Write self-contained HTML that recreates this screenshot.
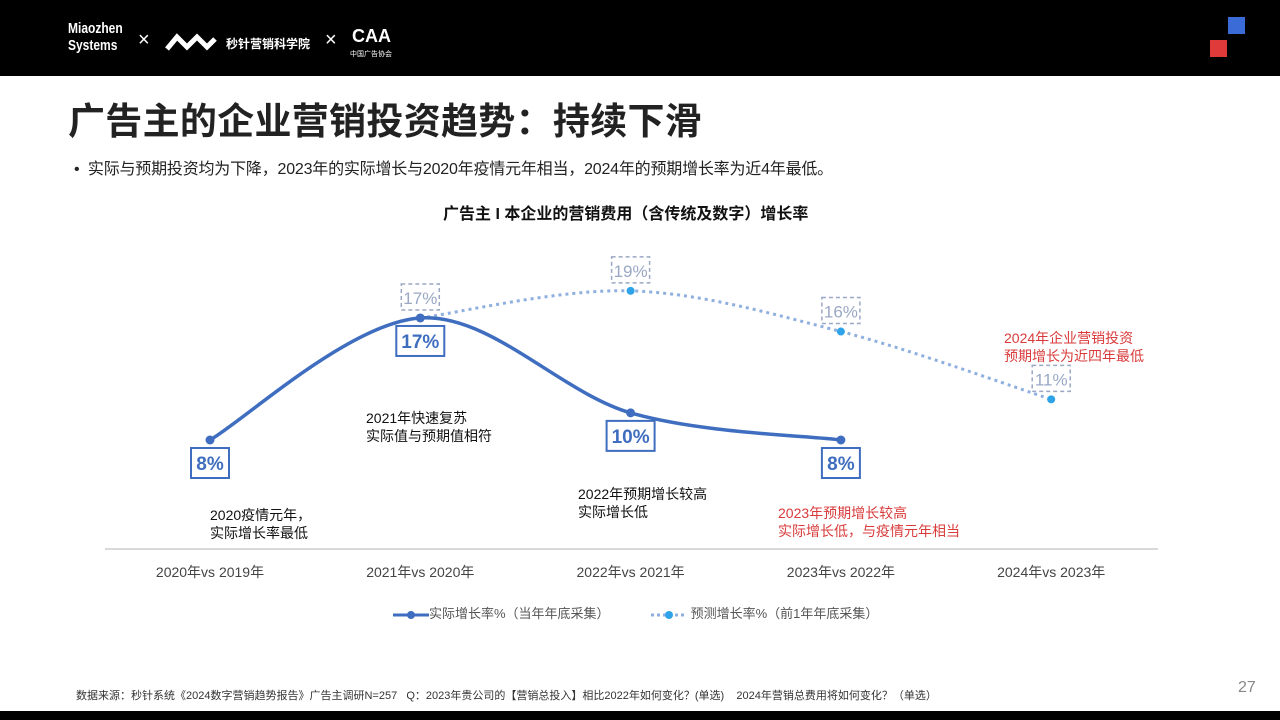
<!DOCTYPE html>
<html><head><meta charset="utf-8">
<style>
body{margin:0;width:1280px;height:720px;position:relative;background:#fff;overflow:hidden;font-family:"Liberation Sans","Noto Sans CJK SC",sans-serif;}
.abs{position:absolute;white-space:nowrap;}
</style></head><body>
<div class="abs" style="left:0;top:0;width:1280px;height:76px;background:#000;"></div>
<div class="abs" style="left:68px;top:20px;color:#fff;font-size:15px;line-height:17px;font-weight:bold;font-family:'Liberation Sans Narrow','Liberation Sans',sans-serif;transform:scaleX(.8);transform-origin:left;">Miaozhen<br>Systems</div>
<div class="abs" style="left:138px;top:30px;color:#fff;font-size:20px;line-height:20px;">×</div>
<svg class="abs" style="left:165px;top:31px" width="52" height="22"><path d="M2 18 L12 6 L22 16 L32 6 L42 16 L50 8" stroke="#fff" stroke-width="5" fill="none"/></svg>
<div class="abs" style="left:226px;top:35px;color:#fff;font-size:12px;font-weight:bold;">秒针营销科学院</div>
<div class="abs" style="left:325px;top:30px;color:#fff;font-size:20px;line-height:20px;">×</div>
<div class="abs" style="left:352px;top:26px;color:#fff;font-size:18px;font-weight:bold;line-height:20px;">CAA</div>
<div class="abs" style="left:350px;top:49px;color:#fff;font-size:7px;">中国广告协会</div>
<div class="abs" style="left:1228px;top:17px;width:17px;height:17px;background:#3a6bd6;"></div>
<div class="abs" style="left:1210px;top:40px;width:17px;height:17px;background:#e03a3a;"></div>
<div class="abs" style="left:68px;top:91px;font-size:37px;letter-spacing:0.3px;font-weight:bold;color:#222;">广告主的企业营销投资趋势：持续下滑</div>
<div class="abs" style="left:74px;top:155px;font-size:16px;color:#222;letter-spacing:-0.2px;">•&nbsp;&nbsp;实际与预期投资均为下降，2023年的实际增长与2020年疫情元年相当，2024年的预期增长率为近4年最低。</div>
<div class="abs" style="left:443px;top:200px;font-size:16px;font-weight:bold;color:#111;">广告主 I 本企业的营销费用（含传统及数字）增长率</div>
<svg class="abs" id="chart" style="left:0;top:0" width="1280" height="720"></svg>
<div class="abs" style="left:210px;top:506px;font-size:14px;line-height:18px;color:#111;">2020疫情元年，<br>实际增长率最低</div>
<div class="abs" style="left:366px;top:409px;font-size:14px;line-height:18px;color:#111;">2021年快速复苏<br>实际值与预期值相符</div>
<div class="abs" style="left:578px;top:485px;font-size:14px;line-height:18px;color:#111;">2022年预期增长较高<br>实际增长低</div>
<div class="abs" style="left:778px;top:504px;font-size:14px;line-height:18px;color:#d93b3b;">2023年预期增长较高<br>实际增长低，与疫情元年相当</div>
<div class="abs" style="left:1004px;top:329px;font-size:14px;line-height:18px;color:#d93b3b;">2024年企业营销投资<br>预期增长为近四年最低</div>
<div class="abs" style="left:393px;top:603px;font-size:13px;color:#555;"><svg width="36" height="12" style="vertical-align:middle"><line x1="0" y1="6" x2="36" y2="6" stroke="#3f6dbf" stroke-width="3"/><circle cx="18" cy="6" r="4" fill="#3f6dbf"/></svg>实际增长率%（当年年底采集）</div>
<div class="abs" style="left:651px;top:603px;font-size:13px;color:#555;"><svg width="36" height="12" style="vertical-align:middle"><line x1="0" y1="6" x2="36" y2="6" stroke="#8fb0df" stroke-width="3" stroke-dasharray="3 3"/><circle cx="18" cy="6" r="4" fill="#2ea3e8"/></svg> 预测增长率%（前1年年底采集）</div>
<div class="abs" style="left:76px;top:687px;font-size:11px;color:#333;">数据来源：秒针系统《2024数字营销趋势报告》广告主调研N=257&nbsp;&nbsp;&nbsp;Q：2023年贵公司的【营销总投入】相比2022年如何变化？(单选)&nbsp;&nbsp;&nbsp;&nbsp;2024年营销总费用将如何变化？（单选）</div>
<div class="abs" style="left:1238px;top:679px;font-size:16px;color:#888;">27</div>
<div class="abs" style="left:0;top:711px;width:1280px;height:9px;background:#000;"></div>
<script>
const categories=["2020年vs 2019年","2021年vs 2020年","2022年vs 2021年","2023年vs 2022年","2024年vs 2023年"];
const actualValues=[8,17,10,8];
const forecastValues=[null,17,19,16,11];
const actualLabels=["8%","17%","10%","8%"];
const forecastLabels=[null,"17%","19%","16%","11%"];
const svg=document.getElementById('chart');
const NS='http://www.w3.org/2000/svg';
function xs(i){return 210+i*210.3;}
function ys(v){return 440-(v-8)*13.56;}
function mk(t,a){const e=document.createElementNS(NS,t);for(const k in a)e.setAttribute(k,a[k]);svg.appendChild(e);return e;}
function spline(pts){let d=`M${pts[0][0]},${pts[0][1]}`;for(let i=0;i<pts.length-1;i++){const p0=pts[i-1]||pts[i],p1=pts[i],p2=pts[i+1],p3=pts[i+2]||p2;const t=1/3;const c1=[p1[0]+(p2[0]-p0[0])*t/2,p1[1]+(p2[1]-p0[1])*t/2];const c2=[p2[0]-(p3[0]-p1[0])*t/2,p2[1]-(p3[1]-p1[1])*t/2];d+=` C${c1[0]},${c1[1]} ${c2[0]},${c2[1]} ${p2[0]},${p2[1]}`;}return d;}
const ax=mk('line',{x1:105,y1:549,x2:1158,y2:549,stroke:'#d9d9d9','stroke-width':2});

categories.forEach((c,i)=>{const t=mk('text',{x:xs(i),y:577,'text-anchor':'middle','font-size':14,fill:'#444'});t.textContent=c;
});
const fp=[];forecastValues.forEach((v,i)=>{if(v!=null)fp.push([xs(i),ys(v)]);});
const fl=mk('path',{d:spline(fp),fill:'none',stroke:'#8fb0df','stroke-width':3,'stroke-dasharray':'3 4'});

const ap=actualValues.map((v,i)=>[xs(i),ys(v)]);
const al=mk('path',{d:spline(ap),fill:'none',stroke:'#3f6dbf','stroke-width':3.5});

forecastValues.forEach((v,i)=>{if(v==null)return;const x=xs(i),y=ys(v);
const c=mk('circle',{cx:x,cy:y,r:4,fill:'#2ea3e8'});
const r=mk('rect',{x:x-19,y:y-34,width:38,height:26,fill:'#fff',stroke:'#9aa8c4','stroke-dasharray':'4 3','stroke-width':1.5});
const t=mk('text',{x:x,y:y-14,'text-anchor':'middle','font-size':17,fill:'#9aa8c4'});t.textContent=forecastLabels[i];});
actualValues.forEach((v,i)=>{const x=xs(i),y=ys(v);
const c=mk('circle',{cx:x,cy:y,r:4.5,fill:'#3f6dbf'});
const w=actualLabels[i].length>2?48:38;
const r=mk('rect',{x:x-w/2,y:y+8,width:w,height:30,fill:'#fff',stroke:'#3f6dbf','stroke-width':2});
const t=mk('text',{x:x,y:y+30,'text-anchor':'middle','font-size':19,'font-weight':'bold',fill:'#3f6dbf'});t.textContent=actualLabels[i];});
</script>
</body></html>
